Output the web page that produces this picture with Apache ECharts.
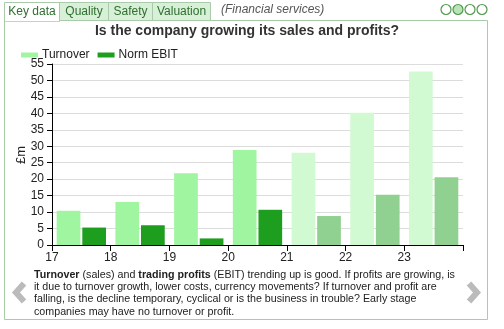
<!DOCTYPE html>
<html><head><meta charset="utf-8">
<script src="https://cdn.jsdelivr.net/npm/echarts@6/dist/echarts.min.js"></script>
<style>html,body{margin:0;padding:0;background:#fff}#c{width:504px;height:329px}</style>
</head><body><div id="c"></div>
<script>
const years = ['17','18','19','20','21','22','23'];
const tickLabels = ['17','18','19','20','21','22','23'];
const turnover = [10.4, 13.1, 21.8, 28.9, 28.0, 40.2, 52.7];
const normEbit = [5.3, 6.0, 2.0, 10.7, 8.8, 15.3, 20.6];
const isForecast = [false, false, false, false, true, true, true];
const tabs = ['Key data','Quality','Safety','Valuation'];

const F = '"Liberation Sans", Arial, sans-serif';
const cT = '#a0f5a0', cTf = '#d2fad2', cE = '#1e9e1e', cEf = '#90d090';
const border = '#a9cba9';

const chart = echarts.init(document.getElementById('c'), null, {renderer:'canvas'});

const tabX = [4.5, 59.5, 108.5, 152.5, 210.5];
const graphics = [];
graphics.push({type:'rect', shape:{x:4.5,y:20.5,width:483,height:299}, style:{fill:'#fff',stroke:border,lineWidth:1}, z:-10});
tabs.forEach((t,i)=>{
  graphics.push({type:'rect', shape:{x:tabX[i],y:2.5,width:tabX[i+1]-tabX[i],height:18 + (i===0?1:0)},
    style:{fill: i===0?'#fff':'#d8f0d8', stroke:border, lineWidth:1}, z:-5});
  graphics.push({type:'text', x:(tabX[i]+tabX[i+1])/2, y:11.5, style:{text:t, font:'12px '+F, fill:'#2f6f2f', align:'center', verticalAlign:'middle'}, z:1});
});
graphics.push({type:'line', shape:{x1:5,y1:20.5,x2:59,y2:20.5}, style:{stroke:'#fff',lineWidth:1.5}, z:2});
graphics.push({type:'text', x:221, y:9.5, style:{text:'(Financial services)', font:'italic 12px '+F, fill:'#555', verticalAlign:'middle'}});
[446,458,470,482].forEach((cx,i)=>{
  graphics.push({type:'circle', shape:{cx:cx,cy:9.5,r:5}, style:{fill: i===1?'#b8e4b8':'#fff', stroke:'#4f9a4f', lineWidth:1.2}, z: i===1?2:1});
});
graphics.push({type:'text', x:247, y:31, style:{text:'Is the company growing its sales and profits?', font:'bold 14px '+F, fill:'#333', align:'center', verticalAlign:'middle'}});
graphics.push({type:'text', x:21, y:155, rotation:Math.PI/2, style:{text:'£m', font:'13px '+F, fill:'#222', align:'center', verticalAlign:'middle'}});
graphics.push({type:'polyline', shape:{points:[[24,283.5],[16,292.5],[24,301.5]]}, style:{stroke:'#bbb',lineWidth:6,fill:null}});
graphics.push({type:'polyline', shape:{points:[[469,283.5],[477,292.5],[469,301.5]]}, style:{stroke:'#bbb',lineWidth:6,fill:null}});
graphics.push({type:'text', x:34, y:269, style:{
  text:'{b|Turnover} (sales) and {b|trading profits} (EBIT) trending up is good. If profits are growing, is\nit due to turnover growth, lower costs, currency movements? If turnover and profit are\nfalling, is the decline temporary, cyclical or is the business in trouble? Early stage\ncompanies may have no turnover or profit.',
  font:'10.7px '+F, fill:'#222', lineHeight:12.2,
  rich:{b:{font:'bold 10.7px '+F, fill:'#222', lineHeight:12.2}}
}});

chart.setOption({
  animation:false,
  textStyle:{fontFamily:F},
  graphic:graphics,
  legend:{left:16, top:44, itemWidth:17, itemHeight:5, itemGap:8, icon:'rect',
    textStyle:{fontSize:12, color:'#222', fontFamily:F, padding:[0,0,0,-1]},
    data:['Turnover','Norm EBIT']},
  grid:{left:52, right:41, top:64, bottom:84},
  xAxis:[
    {type:'category', data:years, show:false},
    {type:'value', min:17, max:24, interval:1, position:'bottom',
      axisLine:{show:true, lineStyle:{color:'#000', width:1}},
      axisTick:{show:true, length:6, lineStyle:{color:'#000'}},
      splitLine:{show:false},
      axisLabel:{fontSize:12, color:'#222', margin:7, fontFamily:F,
        formatter:v=> (v>=17 && v<=23) ? tickLabels[v-17] : ''}}
  ],
  yAxis:{type:'value', min:0, max:55, interval:5,
    axisLine:{show:true, lineStyle:{color:'#000'}},
    axisTick:{show:true, length:5, lineStyle:{color:'#000'}},
    axisLabel:{fontSize:12, color:'#222', margin:8, fontFamily:F},
    splitLine:{lineStyle:{color:'#dcdcdc'}}},
  series:[
    {name:'Turnover', type:'bar', xAxisIndex:0, barGap:'8%', barCategoryGap:'16%',
      itemStyle:{color:cT},
      data:turnover.map((v,i)=>({value:v, itemStyle:{color:isForecast[i]?cTf:cT}}))},
    {name:'Norm EBIT', type:'bar', xAxisIndex:0,
      itemStyle:{color:cE},
      data:normEbit.map((v,i)=>({value:v, itemStyle:{color:isForecast[i]?cEf:cE}}))}
  ]
});
</script></body></html>
